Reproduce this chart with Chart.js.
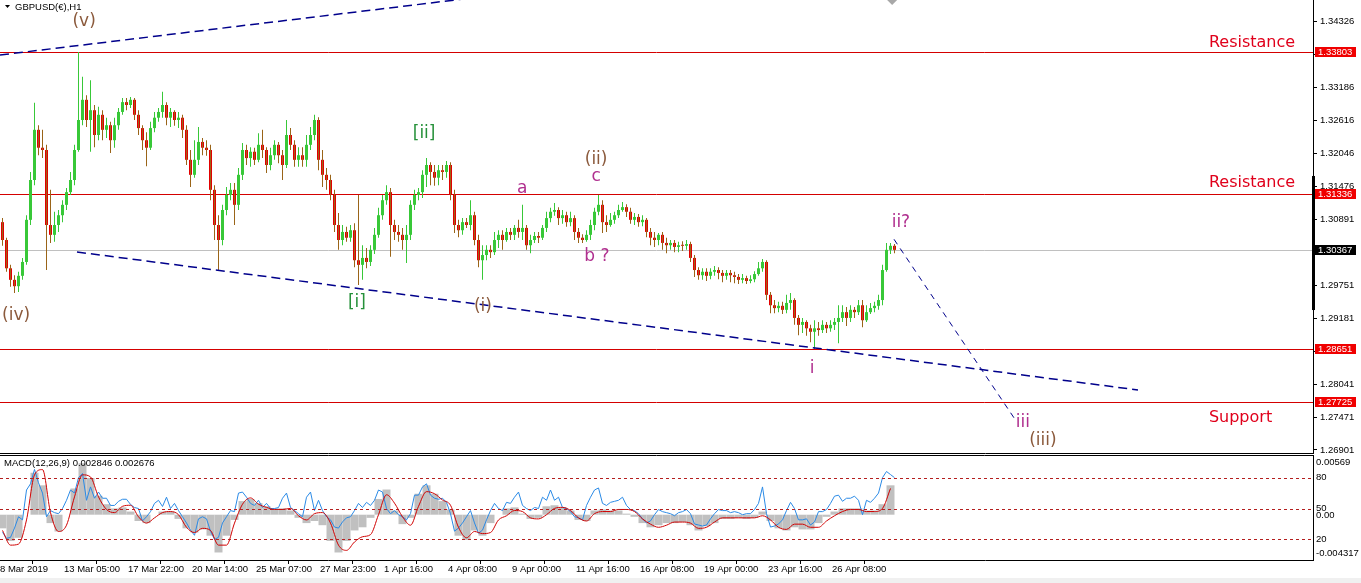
<!DOCTYPE html>
<html>
<head>
<meta charset="utf-8">
<title>GBPUSD H1</title>
<script src="https://cdn.jsdelivr.net/npm/chart.js@4.4.1/dist/chart.umd.min.js"></script>
<style>
  html, body { margin: 0; padding: 0; background: #fff; overflow: hidden; }
  #wrap { position: relative; width: 1361px; height: 583px; }
  #main { position: absolute; left: 0; top: 0; }
  #macd { position: absolute; left: 0; top: 455px; }
  #strip { position: absolute; left: 0; top: 578px; width: 1361px; height: 5px; background: #f0f0f0; }
</style>
</head>
<body>
<div id="wrap">
  <canvas id="main" width="1361" height="455"></canvas>
  <canvas id="macd" width="1361" height="128"></canvas>
  <div id="strip"></div>
</div>
<script>
// candles (one per slot)
const opens = [
  1.3085,1.3054,1.3005,1.2985,1.2974,1.2992,1.3016,1.3089,1.3158,1.3245,1.3214,1.3210,1.3080,1.3063,1.3080,1.3097,
  1.3115,1.3137,1.3158,1.3210,1.3262,1.3297,1.3262,1.3279,1.3236,1.3271,1.3245,1.3253,1.3227,1.3253,1.3276,1.3293,
  1.3288,1.3297,1.3271,1.3248,1.3227,1.3214,1.3248,1.3266,1.3276,1.3288,1.3266,1.3276,1.3262,1.3266,1.3245,1.3193,
  1.3167,1.3193,1.3224,1.3214,1.3210,1.3141,1.3080,1.3054,1.3106,1.3132,1.3141,1.3115,1.3167,1.3210,1.3196,1.3207,
  1.3193,1.3219,1.3210,1.3184,1.3201,1.3219,1.3201,1.3184,1.3236,1.3219,1.3193,1.3201,1.3193,1.3219,1.3236,1.3262,
  1.3193,1.3167,1.3158,1.3132,1.3080,1.3054,1.3068,1.3058,1.3071,1.3019,1.3011,1.3023,1.3016,1.3037,1.3063,1.3097,
  1.3123,1.3137,1.3080,1.3068,1.3063,1.3054,1.3063,1.3115,1.3132,1.3137,1.3167,1.3184,1.3172,1.3162,1.3175,1.3172,
  1.3184,1.3132,1.3080,1.3071,1.3085,1.3080,1.3097,1.3054,1.3019,1.3028,1.3037,1.3033,1.3054,1.3063,1.3054,1.3068,
  1.3063,1.3075,1.3068,1.3075,1.3045,1.3054,1.3061,1.3058,1.3075,1.3092,1.3103,1.3106,1.3092,1.3097,1.3085,1.3092,
  1.3068,1.3058,1.3054,1.3063,1.3080,1.3103,1.3115,1.3085,1.3080,1.3089,1.3097,1.3106,1.3111,1.3103,1.3089,1.3094,
  1.3085,1.3089,1.3068,1.3058,1.3054,1.3063,1.3049,1.3045,1.3049,1.3042,1.3045,1.3044,1.3047,1.3023,1.3002,1.2993,
  1.2999,1.2992,1.2999,1.3002,1.2997,1.2992,1.2997,1.2993,1.2990,1.2985,1.2988,1.2983,1.2986,1.2995,1.3005,1.3016,
  1.2959,1.2941,1.2936,1.2940,1.2933,1.2945,1.2950,1.2919,1.2907,1.2912,1.2901,1.2895,1.2901,1.2898,1.2907,1.2901,
  1.2907,1.2912,1.2919,1.2929,1.2919,1.2933,1.2929,1.2941,1.2915,1.2929,1.2936,1.2940,1.2950,1.3002,1.3037,1.3044
];
const highs = [
  1.3092,1.3058,1.3011,1.2993,1.2999,1.3023,1.3097,1.3172,1.3292,1.3253,1.3245,1.3219,1.3141,1.3103,1.3106,1.3123,
  1.3144,1.3172,1.3219,1.3380,1.3337,1.3305,1.3331,1.3288,1.3285,1.3279,1.3266,1.3259,1.3266,1.3283,1.3300,1.3300,
  1.3302,1.3300,1.3279,1.3253,1.3241,1.3259,1.3276,1.3283,1.3311,1.3293,1.3283,1.3279,1.3276,1.3271,1.3253,1.3210,
  1.3227,1.3250,1.3231,1.3227,1.3219,1.3149,1.3097,1.3115,1.3146,1.3153,1.3153,1.3179,1.3222,1.3219,1.3215,1.3214,
  1.3239,1.3245,1.3215,1.3214,1.3227,1.3224,1.3210,1.3262,1.3248,1.3227,1.3215,1.3215,1.3236,1.3250,1.3271,1.3267,
  1.3210,1.3179,1.3167,1.3141,1.3101,1.3080,1.3077,1.3080,1.3083,1.3132,1.3045,1.3040,1.3045,1.3075,1.3110,1.3132,
  1.3149,1.3144,1.3089,1.3080,1.3075,1.3080,1.3123,1.3141,1.3144,1.3175,1.3196,1.3189,1.3184,1.3184,1.3184,1.3191,
  1.3189,1.3141,1.3089,1.3092,1.3092,1.3123,1.3103,1.3063,1.3045,1.3045,1.3045,1.3068,1.3071,1.3071,1.3075,1.3075,
  1.3080,1.3089,1.3115,1.3080,1.3063,1.3068,1.3068,1.3080,1.3103,1.3110,1.3118,1.3111,1.3106,1.3103,1.3103,1.3097,
  1.3075,1.3064,1.3071,1.3089,1.3110,1.3132,1.3123,1.3097,1.3101,1.3103,1.3115,1.3120,1.3116,1.3110,1.3101,1.3099,
  1.3097,1.3092,1.3075,1.3068,1.3066,1.3068,1.3058,1.3054,1.3054,1.3051,1.3052,1.3054,1.3051,1.3028,1.3007,1.3005,
  1.3005,1.3005,1.3009,1.3007,1.3002,1.3002,1.3002,1.2999,1.2995,1.2995,1.2992,1.2993,1.3000,1.3016,1.3021,1.3019,
  1.2964,1.2950,1.2947,1.2947,1.2959,1.2962,1.2953,1.2924,1.2919,1.2915,1.2907,1.2915,1.2912,1.2915,1.2912,1.2915,
  1.2919,1.2941,1.2941,1.2938,1.2941,1.2938,1.2950,1.2950,1.2941,1.2945,1.2947,1.2959,1.3011,1.3049,1.3049,1.3047
];
const lows = [
  1.3044,1.2999,1.2973,1.2962,1.2964,1.2985,1.3011,1.3080,1.3149,1.3201,1.3196,1.3002,1.3049,1.3051,1.3068,1.3085,
  1.3106,1.3132,1.3149,1.3207,1.3253,1.3250,1.3207,1.3215,1.3227,1.3227,1.3231,1.3205,1.3214,1.3245,1.3271,1.3279,
  1.3283,1.3262,1.3236,1.3210,1.3182,1.3210,1.3241,1.3259,1.3266,1.3253,1.3250,1.3252,1.3248,1.3231,1.3184,1.3146,
  1.3162,1.3184,1.3201,1.3200,1.3123,1.3054,1.3002,1.3045,1.3097,1.3123,1.3080,1.3106,1.3158,1.3184,1.3181,1.3184,
  1.3189,1.3196,1.3170,1.3175,1.3193,1.3187,1.3158,1.3179,1.3210,1.3181,1.3181,1.3181,1.3181,1.3210,1.3227,1.3175,
  1.3146,1.3141,1.3123,1.3068,1.3037,1.3045,1.3051,1.3051,1.3007,1.2976,1.2985,1.3005,1.3009,1.3030,1.3058,1.3089,
  1.3115,1.3025,1.3054,1.3051,1.3037,1.3014,1.3054,1.3106,1.3123,1.3127,1.3146,1.3149,1.3148,1.3149,1.3158,1.3162,
  1.3123,1.3066,1.3059,1.3063,1.3075,1.3071,1.3045,1.3007,1.2985,1.3019,1.3023,1.3028,1.3040,1.3037,1.3051,1.3054,
  1.3054,1.3058,1.3054,1.3037,1.3031,1.3049,1.3049,1.3054,1.3068,1.3085,1.3096,1.3080,1.3082,1.3077,1.3078,1.3054,
  1.3049,1.3049,1.3051,1.3054,1.3071,1.3097,1.3066,1.3068,1.3077,1.3082,1.3092,1.3103,1.3094,1.3082,1.3080,1.3077,
  1.3078,1.3059,1.3045,1.3042,1.3045,1.3037,1.3031,1.3037,1.3033,1.3033,1.3035,1.3037,1.3016,1.2990,1.2985,1.2985,
  1.2983,1.2986,1.2992,1.2986,1.2981,1.2985,1.2981,1.2979,1.2978,1.2979,1.2978,1.2979,1.2981,1.2992,1.2999,1.2950,
  1.2927,1.2927,1.2929,1.2926,1.2927,1.2933,1.2907,1.2889,1.2893,1.2888,1.2877,1.2865,1.2888,1.2893,1.2893,1.2895,
  1.2898,1.2875,1.2912,1.2905,1.2912,1.2919,1.2924,1.2903,1.2912,1.2926,1.2929,1.2933,1.2941,1.2999,1.3030,1.3031
];
const closes = [
  1.3054,1.3005,1.2985,1.2974,1.2992,1.3016,1.3089,1.3158,1.3245,1.3214,1.3210,1.3080,1.3063,1.3080,1.3097,1.3115,
  1.3137,1.3158,1.3210,1.3262,1.3297,1.3262,1.3279,1.3236,1.3271,1.3245,1.3253,1.3227,1.3253,1.3276,1.3293,1.3288,
  1.3297,1.3271,1.3248,1.3227,1.3214,1.3248,1.3266,1.3276,1.3288,1.3266,1.3276,1.3262,1.3266,1.3245,1.3193,1.3167,
  1.3193,1.3224,1.3214,1.3210,1.3141,1.3080,1.3054,1.3106,1.3132,1.3141,1.3115,1.3167,1.3210,1.3196,1.3207,1.3193,
  1.3219,1.3210,1.3184,1.3201,1.3219,1.3201,1.3184,1.3236,1.3219,1.3193,1.3201,1.3193,1.3219,1.3236,1.3262,1.3193,
  1.3167,1.3158,1.3132,1.3080,1.3054,1.3068,1.3058,1.3071,1.3019,1.3011,1.3023,1.3016,1.3037,1.3063,1.3097,1.3123,
  1.3137,1.3080,1.3068,1.3063,1.3054,1.3063,1.3115,1.3132,1.3137,1.3167,1.3184,1.3172,1.3162,1.3175,1.3172,1.3184,
  1.3132,1.3080,1.3071,1.3085,1.3080,1.3097,1.3054,1.3019,1.3028,1.3037,1.3033,1.3054,1.3063,1.3054,1.3068,1.3063,
  1.3075,1.3068,1.3075,1.3045,1.3054,1.3061,1.3058,1.3075,1.3092,1.3103,1.3106,1.3092,1.3097,1.3085,1.3092,1.3068,
  1.3058,1.3054,1.3063,1.3080,1.3103,1.3115,1.3085,1.3080,1.3089,1.3097,1.3106,1.3111,1.3103,1.3089,1.3094,1.3085,
  1.3089,1.3068,1.3058,1.3054,1.3063,1.3049,1.3045,1.3049,1.3042,1.3045,1.3044,1.3047,1.3023,1.3002,1.2993,1.2999,
  1.2992,1.2999,1.3002,1.2997,1.2992,1.2997,1.2993,1.2990,1.2985,1.2988,1.2983,1.2986,1.2995,1.3005,1.3016,1.2959,
  1.2941,1.2936,1.2940,1.2933,1.2945,1.2950,1.2919,1.2907,1.2912,1.2901,1.2895,1.2901,1.2898,1.2907,1.2901,1.2907,
  1.2912,1.2919,1.2929,1.2919,1.2933,1.2929,1.2941,1.2915,1.2929,1.2936,1.2940,1.2950,1.3002,1.3037,1.3044,1.3037
];

const priceTicks = [1.34326, 1.33756, 1.33186, 1.32616, 1.32046, 1.31476, 1.30891, 1.30321,
                    1.29751, 1.29181, 1.28611, 1.28041, 1.27471, 1.26901];
const timeLabels = ['8 Mar 2019', '13 Mar 05:00', '17 Mar 22:00', '20 Mar 14:00', '25 Mar 07:00',
                    '27 Mar 23:00', '1 Apr 16:00', '4 Apr 08:00', '9 Apr 00:00', '11 Apr 16:00',
                    '16 Apr 08:00', '19 Apr 00:00', '23 Apr 16:00', '26 Apr 08:00'];

// MACD histogram and signal, one value every second candle
const macdHist = [
  -0.0013,-0.0025,-0.0022,0.0000,0.0040,0.0028,-0.0008,-0.0016,0.0000,0.0025,0.0049,0.0035,0.0018,0.0010,0.0006,0.0007,
  0.0003,-0.0006,-0.0008,0.0000,0.0003,0.0003,-0.0004,-0.0013,-0.0017,-0.0014,-0.0020,-0.0036,-0.0020,-0.0005,0.0013,0.0015,
  0.0011,0.0008,0.0006,0.0006,0.0004,-0.0003,-0.0008,-0.0006,-0.0010,-0.0025,-0.0036,-0.0025,-0.0015,-0.0012,-0.0003,0.0015,
  0.0024,0.0004,-0.0009,-0.0003,0.0020,0.0028,0.0020,0.0013,0.0005,-0.0020,-0.0024,-0.0015,-0.0020,-0.0008,0.0000,0.0006,
  0.0007,0.0001,-0.0004,-0.0003,0.0008,0.0009,0.0007,0.0004,-0.0005,-0.0006,0.0004,0.0005,0.0004,0.0004,0.0001,-0.0002,
  -0.0008,-0.0012,-0.0010,-0.0008,-0.0008,-0.0007,-0.0010,-0.0015,-0.0011,-0.0008,-0.0004,-0.0004,-0.0003,-0.0004,-0.0003,0.0003,
  -0.0006,-0.0013,-0.0015,-0.0012,-0.0014,-0.0014,-0.0008,-0.0002,0.0003,0.0006,0.0006,0.0006,0.0004,0.0004,0.0010,0.0028
];
const macdSignal = [
  -0.0015,-0.0029,-0.0028,-0.0005,0.0038,0.0043,0.0002,-0.0016,-0.0010,0.0017,0.0038,0.0036,0.0017,0.0005,0.0002,0.0008,
  0.0009,-0.0002,-0.0008,-0.0003,0.0002,0.0003,0.0000,-0.0012,-0.0017,-0.0013,-0.0015,-0.0029,-0.0029,-0.0008,0.0010,0.0016,
  0.0010,0.0007,0.0005,0.0005,0.0006,-0.0001,-0.0005,0.0001,0.0002,-0.0008,-0.0029,-0.0034,-0.0026,-0.0021,-0.0019,0.0000,
  0.0019,0.0011,-0.0002,-0.0010,0.0008,0.0022,0.0020,0.0014,0.0009,-0.0012,-0.0022,-0.0016,-0.0018,-0.0017,-0.0005,-0.0001,
  0.0004,0.0003,-0.0003,-0.0004,0.0000,0.0006,0.0007,0.0004,-0.0003,-0.0006,0.0001,0.0003,0.0003,0.0005,0.0005,0.0003,
  -0.0004,-0.0009,-0.0012,-0.0010,-0.0007,-0.0007,-0.0008,-0.0013,-0.0012,-0.0007,-0.0003,-0.0003,-0.0003,-0.0003,-0.0003,-0.0001,
  -0.0005,-0.0012,-0.0014,-0.0009,-0.0009,-0.0012,-0.0012,-0.0006,-0.0001,0.0003,0.0005,0.0005,0.0003,0.0003,0.0006,0.0025
];
// oscillator on the 0-100 levels, one value per candle
const blueLine = [
  27,21,22,31,42,39,68,74,88,75,65,42,48,46,45,50,
  58,68,65,80,84,58,71,60,66,60,60,53,53,57,59,59,
  54,51,50,38,42,47,55,58,52,61,50,55,48,42,36,29,
  24,40,42,40,28,20,22,36,42,48,47,65,66,61,55,53,
  58,51,55,50,50,51,60,65,51,48,45,42,61,66,48,58,
  48,42,39,32,31,37,41,42,48,55,51,56,53,58,68,66,
  50,45,48,44,42,39,45,63,63,71,74,63,60,59,60,56,
  45,28,31,36,42,48,36,26,29,39,48,55,50,48,56,55,
  61,66,53,50,48,51,50,61,58,68,58,61,51,50,47,42,
  41,39,53,61,68,70,55,53,56,57,58,61,53,49,48,45,
  40,36,38,44,49,47,46,45,43,46,47,49,45,35,34,33,
  34,40,45,49,48,48,46,47,46,44,45,45,49,55,71,45,
  32,33,35,39,48,56,50,39,39,40,34,37,47,47,49,55,
  62,63,57,60,60,62,58,44,58,56,60,65,80,86,83,80
];
const oscLevels = [80, 50, 20];
const oscTickValues = [94.5, 80, 50, 43.6, 20, 6.3];
const oscTickLabels = ['0.00569', '80', '50', '0.00', '20', '-0.004317'];
const macdTitle = 'MACD(12,26,9) 0.002846 0.002676';

// drawn objects on the price panel
const lastPrice = 1.30367;
const levelPrices = [1.33803, 1.31336, 1.28651, 1.27725];
const levelTexts = ['Resistance', 'Resistance', '', 'Support'];
const levelTextPrices = [1.33989, 1.31563, null, 1.27490];
const levelTextX = 301.6;
const waveTexts = ['(v)', '(iv)', '[ii]', '[i]', '(i)', 'a', '(ii)', 'c', 'b ?', 'i', 'ii?', 'iii', '(iii)'];
const waveX = [20.4, 3.4, 105.4, 88.6, 120.1, 129.9, 148.4, 148.4, 148.6, 202.4, 224.6, 255.1, 260.1];
const wavePrices = [1.34371, 1.29275, 1.32430, 1.29501, 1.29431, 1.31476, 1.31979, 1.31684, 1.30298,
                    1.28357, 1.30887, 1.27421, 1.27109];
const trendLines = [
  [-0.625, 1.33747, 119.4, 1.34752],
  [18.625, 1.30333, 283.875, 1.27941],
  [222.875, 1.30553, 253.125, 1.27433]
];
const axisBarRange = [1.29327, 1.31650];

const XMIN = -0.625, XMAX = 327.625;
Chart.defaults.font.family = '"Liberation Sans", Arial, sans-serif';

const isUp = opens.map((o, i) => closes[i] >= o);
const bodyData = opens.map((o, i) => ({ x: i, y: [o, closes[i]] }));
const wickData = highs.map((h, i) => ({ x: i, y: [lows[i], h] }));

const mainDecor = {
  id: 'mainDecor',
  beforeDatasetsDraw(chart) {
    const { ctx, chartArea: a, scales: { y } } = chart;
    ctx.save();
    ctx.lineWidth = 1;
    ctx.strokeStyle = '#c0c0c0';
    let py = Math.round(y.getPixelForValue(lastPrice)) + 0.5;
    ctx.beginPath(); ctx.moveTo(a.left, py); ctx.lineTo(a.right, py); ctx.stroke();
    ctx.strokeStyle = '#d40000';
    levelPrices.forEach(p => {
      py = Math.round(y.getPixelForValue(p)) + 0.5;
      ctx.beginPath(); ctx.moveTo(a.left, py); ctx.lineTo(a.right, py); ctx.stroke();
    });
    ctx.restore();
  },
  afterDatasetsDraw(chart) {
    const { ctx, chartArea: a, scales: { x, y } } = chart;
    ctx.save();
    ctx.beginPath(); ctx.rect(a.left, a.top, a.right - a.left, a.bottom - a.top); ctx.clip();
    ctx.strokeStyle = '#00008b';
    trendLines.forEach((t, k) => {
      ctx.lineWidth = k < 2 ? 1.5 : 1;
      ctx.setLineDash(k < 2 ? [9, 5] : [6, 5]);
      ctx.beginPath();
      ctx.moveTo(x.getPixelForValue(t[0]), y.getPixelForValue(t[1]));
      ctx.lineTo(x.getPixelForValue(t[2]), y.getPixelForValue(t[3]));
      ctx.stroke();
    });
    ctx.setLineDash([]);

    // glyph centre sits a little lower than the em box middle
    ctx.textAlign = 'center';
    ctx.textBaseline = 'middle';
    ctx.font = '17px "DejaVu Sans"';
    waveTexts.forEach((t, k) => {
      ctx.fillStyle = t[0] === '(' ? '#8b5a3c' : t[0] === '[' ? '#26913a' : '#b0308f';
      ctx.fillText(t, x.getPixelForValue(waveX[k]), y.getPixelForValue(wavePrices[k]) + 2.5);
    });

    ctx.textAlign = 'left';
    ctx.font = '16px "DejaVu Sans"';
    ctx.fillStyle = '#e0001b';
    levelTexts.forEach((t, k) => {
      if (t) ctx.fillText(t, x.getPixelForValue(levelTextX), y.getPixelForValue(levelTextPrices[k]) + 2);
    });

    // shift marker
    const sx = x.getPixelForValue(222.4);
    ctx.fillStyle = '#a8a8a8';
    ctx.beginPath(); ctx.moveTo(sx - 5, a.top); ctx.lineTo(sx + 5, a.top); ctx.lineTo(sx, a.top + 5); ctx.fill();

    // symbol title
    ctx.fillStyle = '#000';
    ctx.beginPath(); ctx.moveTo(5, 5); ctx.lineTo(10, 5); ctx.lineTo(7.5, 8); ctx.fill();
    ctx.font = '9.5px "Liberation Sans"';
    ctx.fillText('GBPUSD(€),H1', 15, 7.5);
    ctx.restore();
  },
  afterDraw(chart) {
    const { ctx, chartArea: a, scales: { y } } = chart;
    ctx.save();
    ctx.strokeStyle = '#000';
    ctx.lineWidth = 1;
    ctx.beginPath(); ctx.moveTo(a.left, a.bottom + 0.5); ctx.lineTo(a.right + 1, a.bottom + 0.5); ctx.stroke();

    const y1 = y.getPixelForValue(axisBarRange[1]);
    const y2 = y.getPixelForValue(axisBarRange[0]);
    ctx.fillStyle = '#000';
    ctx.fillRect(a.right - 1, y1, 3, y2 - y1);

    ctx.font = '9.5px "Liberation Sans"';
    ctx.textBaseline = 'middle';
    ctx.textAlign = 'left';
    const tag = (p, bg) => {
      const yy = Math.round(y.getPixelForValue(p));
      ctx.fillStyle = bg;
      ctx.fillRect(a.right + 2, yy - 5, 41, 10);
      ctx.fillStyle = '#fff';
      ctx.fillText(p.toFixed(5), a.right + 5, yy + 0.5);
    };
    levelPrices.forEach(p => tag(p, '#f00000'));
    tag(lastPrice, '#000');
    ctx.restore();
  }
};

new Chart(document.getElementById('main'), {
  type: 'bar',
  data: {
    datasets: [
      { data: bodyData, backgroundColor: isUp.map(u => u ? '#38c838' : '#e20000'),
        barThickness: 3, minBarLength: 1, grouped: false, order: 2, inflateAmount: 0 },
      { data: wickData, backgroundColor: isUp.map(u => u ? '#38c838' : '#9a6418'),
        barThickness: 1, grouped: false, order: 1, inflateAmount: 0 }
    ]
  },
  options: {
    responsive: false, animation: false, devicePixelRatio: 1, events: [],
    layout: { padding: { bottom: 2 } },
    plugins: { legend: { display: false }, tooltip: { enabled: false } },
    scales: {
      x: { type: 'linear', min: XMIN, max: XMAX, offset: false, display: false },
      y: {
        position: 'right', min: 1.26849, max: 1.34700,
        afterBuildTicks: s => { s.ticks = priceTicks.map(v => ({ value: v })); },
        afterFit: s => { s.width = 48; s.paddingTop = 0; s.paddingBottom = 0; },
        ticks: { autoSkip: false, padding: 3, color: '#000', font: { size: 9.5 }, callback: v => v.toFixed(5) },
        grid: { drawOnChartArea: false, drawTicks: true, tickLength: 4, color: '#000' },
        border: { display: true, color: '#000' }
      }
    }
  },
  plugins: [mainDecor]
});

const macdDecor = {
  id: 'macdDecor',
  afterDatasetsDraw(chart) {
    const { ctx, chartArea: a, scales } = chart;
    const r = scales.yR;
    ctx.save();
    ctx.strokeStyle = '#b41e1e';
    ctx.lineWidth = 1;
    ctx.setLineDash([3, 3]);
    oscLevels.forEach(v => {
      const yy = Math.round(r.getPixelForValue(v)) + 0.5;
      ctx.beginPath(); ctx.moveTo(a.left, yy); ctx.lineTo(a.right, yy); ctx.stroke();
    });
    ctx.setLineDash([]);
    ctx.strokeStyle = '#000';
    ctx.beginPath(); ctx.moveTo(a.left, a.top + 0.5); ctx.lineTo(a.right, a.top + 0.5); ctx.stroke();
    ctx.fillStyle = '#000';
    ctx.font = '9.5px "Liberation Sans"';
    ctx.textBaseline = 'middle';
    ctx.fillText(macdTitle, 4, a.top + 8);
    ctx.restore();
  }
};

new Chart(document.getElementById('macd'), {
  type: 'bar',
  data: {
    datasets: [
      { type: 'line', data: macdSignal.map((v, k) => ({ x: 2 * k, y: v })), yAxisID: 'yM',
        borderColor: '#d00000', borderWidth: 1, pointRadius: 0, cubicInterpolationMode: 'monotone', order: 1 },
      { type: 'line', data: blueLine.map((v, i) => ({ x: i, y: v })), yAxisID: 'yR',
        borderColor: '#2a8ae6', borderWidth: 1, pointRadius: 0, tension: 0, order: 2 },
      { data: macdHist.map((v, k) => ({ x: 2 * k, y: v })), yAxisID: 'yM', backgroundColor: '#c0c0c0',
        barThickness: 8, grouped: false, order: 3, inflateAmount: 0 }
    ]
  },
  options: {
    responsive: false, animation: false, devicePixelRatio: 1, events: [],
    plugins: { legend: { display: false }, tooltip: { enabled: false } },
    scales: {
      x: {
        type: 'linear', min: XMIN, max: XMAX, offset: false,
        afterBuildTicks: s => { s.ticks = timeLabels.map((t, k) => ({ value: XMIN + 16 * k })); },
        afterFit: s => { s.height = 23; s.paddingLeft = 0; s.paddingRight = 0; },
        ticks: { autoSkip: false, maxRotation: 0, align: 'start', padding: 0, color: '#000',
                 font: { size: 9.5 }, callback: (v, k) => timeLabels[k] },
        grid: { drawOnChartArea: false, tickLength: 4, color: '#000' },
        border: { display: true, color: '#000' }
      },
      yM: { display: false, min: -0.004317, max: 0.00569 },
      yR: {
        position: 'right', min: 0, max: 102,
        afterBuildTicks: s => { s.ticks = oscTickValues.map(v => ({ value: v })); },
        afterFit: s => { s.width = 48; s.paddingTop = 0; s.paddingBottom = 0; },
        ticks: { autoSkip: false, padding: 3, color: '#000', font: { size: 9.5 },
                 callback: (v, k) => oscTickLabels[k] },
        grid: { drawOnChartArea: false, drawTicks: false },
        border: { display: true, color: '#000' }
      }
    }
  },
  plugins: [macdDecor]
});
</script>
</body>
</html>
